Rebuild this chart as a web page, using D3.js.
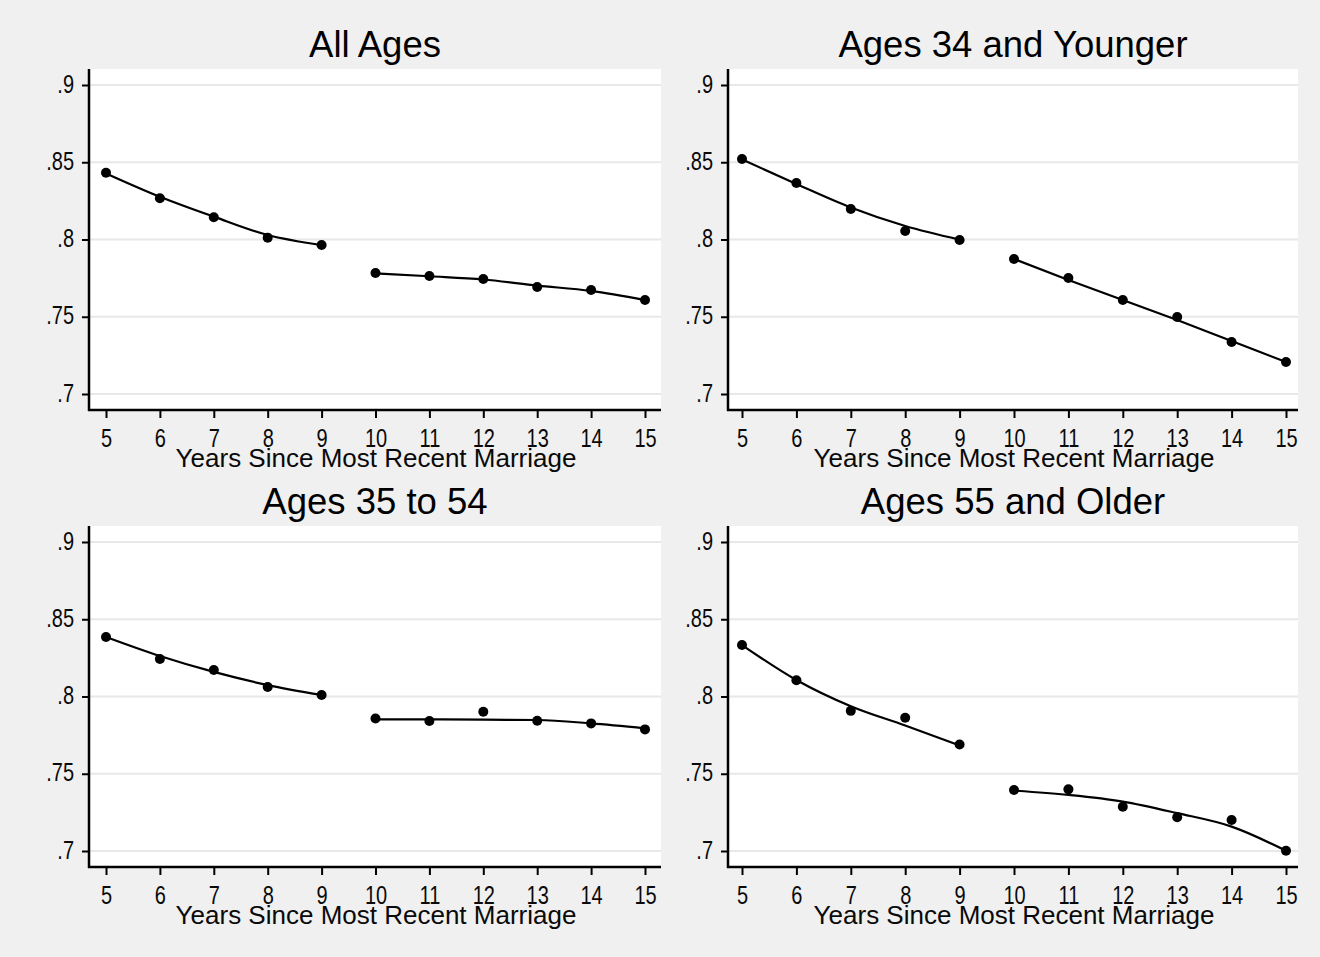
<!DOCTYPE html>
<html><head><meta charset="utf-8">
<script src="https://cdn.jsdelivr.net/npm/d3@7"></script>
<style>body{margin:0;background:#f0f0f0}svg{display:block}</style>
</head><body>
<svg id="chart" width="1320" height="957"></svg>
<script>
// ---- data ----
const years = [5, 6, 7, 8, 9, 10, 11, 12, 13, 14, 15];
const yTickValues = [0.7, 0.75, 0.8, 0.85, 0.9];
const yTickLabels = [".7", ".75", ".8", ".85", ".9"];
const panelTitles = ["All Ages", "Ages 34 and Younger", "Ages 35 to 54", "Ages 55 and Older"];
const xAxisTitle = "Years Since Most Recent Marriage";

const allAgesObs = [0.8432, 0.8267, 0.8144, 0.8012, 0.7964, 0.7783, 0.7764, 0.7744, 0.7693, 0.7673, 0.7608];
const allAgesFit = [0.8428, 0.8277, 0.8148, 0.8029, 0.7964, 0.7781, 0.7762, 0.7741, 0.7702, 0.7667, 0.7608];

const youngObs = [0.8521, 0.8366, 0.8197, 0.8055, 0.7997, 0.7874, 0.7751, 0.7608, 0.7498, 0.7337, 0.7207];
const youngFit = [0.8518, 0.8359, 0.8207, 0.8087, 0.7999, 0.7874, 0.7738, 0.7608, 0.7479, 0.7343, 0.7207];

const midObs = [0.8385, 0.8243, 0.8172, 0.8061, 0.8010, 0.7858, 0.7841, 0.7901, 0.7843, 0.7826, 0.7787];
const midFit = [0.8385, 0.8262, 0.8159, 0.8074, 0.8010, 0.7852, 0.7852, 0.7850, 0.7848, 0.7826, 0.7794];

const oldObs = [0.8333, 0.8105, 0.7907, 0.7862, 0.7689, 0.7395, 0.7399, 0.7286, 0.7218, 0.7201, 0.7002];
const oldFit = [0.8333, 0.8107, 0.7937, 0.7812, 0.7683, 0.7391, 0.7363, 0.7320, 0.7245, 0.7158, 0.7002];

const panelObs = [allAgesObs, youngObs, midObs, oldObs];
const panelFit = [allAgesFit, youngFit, midFit, oldFit];
const segmentBreak = 10; // the fit is split before this year

// ---- layout ----
const svg = d3.select("#chart");
const FONT = "'Liberation Sans', Arial, Helvetica, sans-serif";
const TICK_SCALE = 0.8;
const TICK_FS = 25;

const cols = [
  {x0: 89, x1: 661, r0: 106, r1: 645},
  {x0: 728, x1: 1298, r0: 742, r1: 1286}
];
const rows = [
  {y0: 69, y1: 410, top: 85, bot: 394},
  {y0: 526, y1: 867, top: 542, bot: 851}
];

panelTitles.forEach((title, p) => {
  const c = cols[p % 2], r = rows[Math.floor(p / 2)];
  const x = d3.scaleLinear().domain([5, 15]).range([c.r0, c.r1]);
  const y = d3.scaleLinear().domain([0.7, 0.9]).range([r.bot, r.top]);
  const g = svg.append("g");

  // plot region
  g.append("rect").attr("x", c.x0).attr("y", r.y0)
    .attr("width", c.x1 - c.x0).attr("height", r.y1 - r.y0).attr("fill", "#fff");

  // gridlines
  g.selectAll(".grid").data(yTickValues).join("line")
    .attr("x1", c.x0).attr("x2", c.x1)
    .attr("y1", d => y(d)).attr("y2", d => y(d))
    .attr("stroke", "#e8e8e8").attr("stroke-width", 2);

  // y axis
  const ya = g.append("g").attr("transform", `translate(${c.x0},0)`)
    .call(d3.axisLeft(y).tickValues(yTickValues)
      .tickFormat((d, i) => yTickLabels[i]).tickSize(7).tickSizeOuter(0));
  ya.select(".domain").remove();
  ya.selectAll(".tick line").attr("stroke", "#000").attr("stroke-width", 2);
  ya.selectAll(".tick text")
    .attr("x", 0).attr("dy", null).attr("y", 7)
    .attr("transform", `translate(-15,0) scale(${TICK_SCALE},1)`)
    .attr("font-family", FONT).attr("font-size", TICK_FS).attr("fill", "#0a0a0a")
    .attr("text-anchor", "end");

  // x axis
  const xa = g.append("g").attr("transform", `translate(0,${r.y1})`)
    .call(d3.axisBottom(x).tickValues(years).tickFormat(d3.format("d"))
      .tickSize(8).tickSizeOuter(0));
  xa.select(".domain").remove();
  xa.selectAll(".tick line").attr("stroke", "#000").attr("stroke-width", 2);
  xa.selectAll(".tick text")
    .attr("dy", null).attr("y", 37)
    .attr("transform", `scale(${TICK_SCALE},1)`)
    .attr("font-family", FONT).attr("font-size", TICK_FS).attr("fill", "#0a0a0a");

  // axis lines
  g.append("line").attr("x1", c.x0).attr("x2", c.x0).attr("y1", r.y0).attr("y2", r.y1 + 1)
    .attr("stroke", "#000").attr("stroke-width", 2.5);
  g.append("line").attr("x1", c.x0 - 1).attr("x2", c.x1).attr("y1", r.y1).attr("y2", r.y1)
    .attr("stroke", "#000").attr("stroke-width", 2.5);

  // fitted lines (two segments)
  const fit = years.map((yr, i) => ({yr, v: panelFit[p][i]}));
  const line = d3.line().x(d => x(d.yr)).y(d => y(d.v)).curve(d3.curveMonotoneX);
  [fit.filter(d => d.yr < segmentBreak), fit.filter(d => d.yr >= segmentBreak)].forEach(seg => {
    g.append("path").attr("d", line(seg))
      .attr("fill", "none").attr("stroke", "#000").attr("stroke-width", 2.2);
  });

  // observed points
  g.selectAll(".pt").data(years.map((yr, i) => ({yr, v: panelObs[p][i]}))).join("circle")
    .attr("cx", d => x(d.yr)).attr("cy", d => y(d.v)).attr("r", 5).attr("fill", "#000");

  // titles
  g.append("text").attr("x", (c.x0 + c.x1) / 2).attr("y", r.y0 - 12)
    .attr("text-anchor", "middle").attr("font-family", FONT).attr("font-size", 36.5)
    .attr("fill", "#000").text(title);
  g.append("text").attr("x", (c.x0 + c.x1) / 2 + 1).attr("y", r.y1 + 57)
    .attr("text-anchor", "middle").attr("font-family", FONT).attr("font-size", 26)
    .attr("fill", "#0a0a0a").text(xAxisTitle);
});
</script>
</body></html>
